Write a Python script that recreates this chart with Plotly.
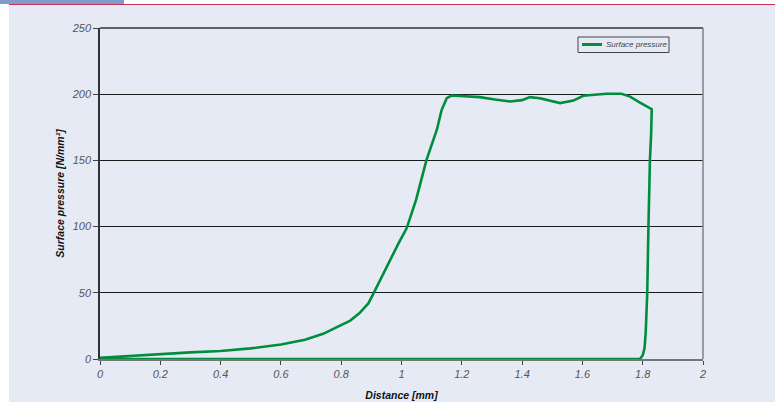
import plotly.graph_objects as go

# Surface pressure along the contact distance (closed loop back along the baseline)
distance_mm = [0.0, 0.1, 0.2, 0.3, 0.4, 0.5, 0.6, 0.68, 0.74, 0.796, 0.83, 0.86, 0.89,
               0.906, 0.934, 0.962, 0.99, 1.017, 1.034, 1.048, 1.083, 1.1, 1.117,
               1.133, 1.15, 1.166, 1.21, 1.26, 1.31, 1.36, 1.4, 1.426, 1.459,
               1.5, 1.526, 1.57, 1.603, 1.64, 1.68, 1.73, 1.758, 1.791, 1.83,
               1.828, 1.824, 1.819, 1.815, 1.81, 1.806, 1.8, 1.795, 1.791, 1.0, 0.0]
pressure = [1.0, 2.5, 4.0, 5.0, 6.0, 8.0, 11.0, 14.5, 19.0, 25.0, 29.0, 34.5, 42.0,
            49.0, 62.0, 74.7, 87.3, 98.7, 110.0, 120.0, 150.4, 162.0, 173.0,
            188.0, 197.0, 199.0, 198.5, 197.8, 196.0, 194.5, 195.5, 197.8, 197.0,
            194.5, 193.3, 195.2, 198.8, 199.6, 200.3, 200.3, 198.2, 193.7, 188.7,
            170.0, 150.4, 99.9, 49.5, 20.0, 8.0, 2.8, 1.0, 0.0, 0.0, 0.0]

x_ticks = [0, 0.2, 0.4, 0.6, 0.8, 1, 1.2, 1.4, 1.6, 1.8, 2]
x_tick_text = ["0", "0.2", "0.4", "0.6", "0.8", "1", "1.2", "1.4", "1.6", "1.8", "2"]
y_ticks = [0, 50, 100, 150, 200, 250]
series_name = "Surface pressure"

FONT = "Liberation Sans, Arial, sans-serif"
BG = "#E6EAF5"
GREEN = "#008D3C"

# Plot area in pixels: x 100..703, y 28..359
PX_L, PX_R, PX_T, PX_B = 100, 703, 28, 359
W, H = PX_R - PX_L, PX_B - PX_T


def px_x(p):
    return (p - PX_L) / W


def px_y(p):
    return (PX_B - p) / H


fig = go.Figure()
fig.add_trace(go.Scatter(
    x=distance_mm, y=pressure, mode="lines", name=series_name,
    line=dict(color=GREEN, width=2.6), showlegend=False,
))

fig.update_layout(
    width=775, height=407,
    margin=dict(l=PX_L, r=775 - PX_R, t=PX_T, b=407 - PX_B),
    paper_bgcolor="white", plot_bgcolor=BG,
    xaxis=dict(
        range=[0, 2], tickvals=x_ticks, ticktext=x_tick_text,
        automargin=False,
        showgrid=False, zeroline=False,
        showline=True, linecolor="#777777", linewidth=1.5,
        ticks="outside", ticklen=4, tickcolor="#444444", tickwidth=1,
        tickfont=dict(family=FONT, size=11, color="#555555", style="italic"),
        title=dict(text="Distance [mm]", standoff=13,
                   font=dict(family=FONT, size=10.5, color="#111111",
                             style="italic", weight="bold")),
    ),
    yaxis=dict(
        range=[0, 250], tickvals=y_ticks,
        automargin=False,
        showgrid=True, gridcolor="#1a1a1a", gridwidth=1,
        zeroline=False,
        showline=True, linecolor="#333333", linewidth=1.5,
        ticks="outside", ticklen=5, tickcolor="#444444", tickwidth=1,
        tickfont=dict(family=FONT, size=11, color="#555555", style="italic"),
        title=dict(text="Surface pressure [N/mm²]", standoff=5,
                   font=dict(family=FONT, size=10.5, color="#111111",
                             style="italic", weight="bold")),
    ),
)

# Page background band, header strip and accent rule
fig.add_shape(type="rect", xref="paper", yref="paper", layer="below",
              x0=px_x(9), x1=px_x(776), y0=px_y(402), y1=px_y(5),
              fillcolor=BG, line=dict(width=0))
fig.add_shape(type="rect", xref="paper", yref="paper", layer="below",
              x0=px_x(0), x1=px_x(124), y0=px_y(4), y1=px_y(0),
              fillcolor="#7F9CC9", line=dict(width=0))
fig.add_shape(type="line", xref="paper", yref="paper", layer="below",
              x0=px_x(9), x1=px_x(776), y0=px_y(4.5), y1=px_y(4.5),
              line=dict(color="#C8325A", width=1))

# Plot frame: top and right borders
fig.add_shape(type="line", xref="paper", yref="paper",
              x0=0, x1=1, y0=1, y1=1, line=dict(color="#333333", width=1.5))
fig.add_shape(type="line", xref="paper", yref="paper",
              x0=1, x1=1, y0=0, y1=1, line=dict(color="#808080", width=1.5))

# Legend box with line sample and label
fig.add_shape(type="rect", xref="paper", yref="paper",
              x0=px_x(578), x1=px_x(669), y0=px_y(52.5), y1=px_y(37),
              fillcolor=BG, line=dict(color="#444444", width=1))
fig.add_shape(type="line", xref="paper", yref="paper",
              x0=px_x(582), x1=px_x(602), y0=px_y(44.5), y1=px_y(44.5),
              line=dict(color=GREEN, width=3))
fig.add_annotation(xref="paper", yref="paper", x=px_x(604), y=px_y(44.5),
                   xanchor="left", yanchor="middle", showarrow=False,
                   text=series_name,
                   font=dict(family=FONT, size=8, color="#444444", style="italic"))

fig.write_html("out.html")
